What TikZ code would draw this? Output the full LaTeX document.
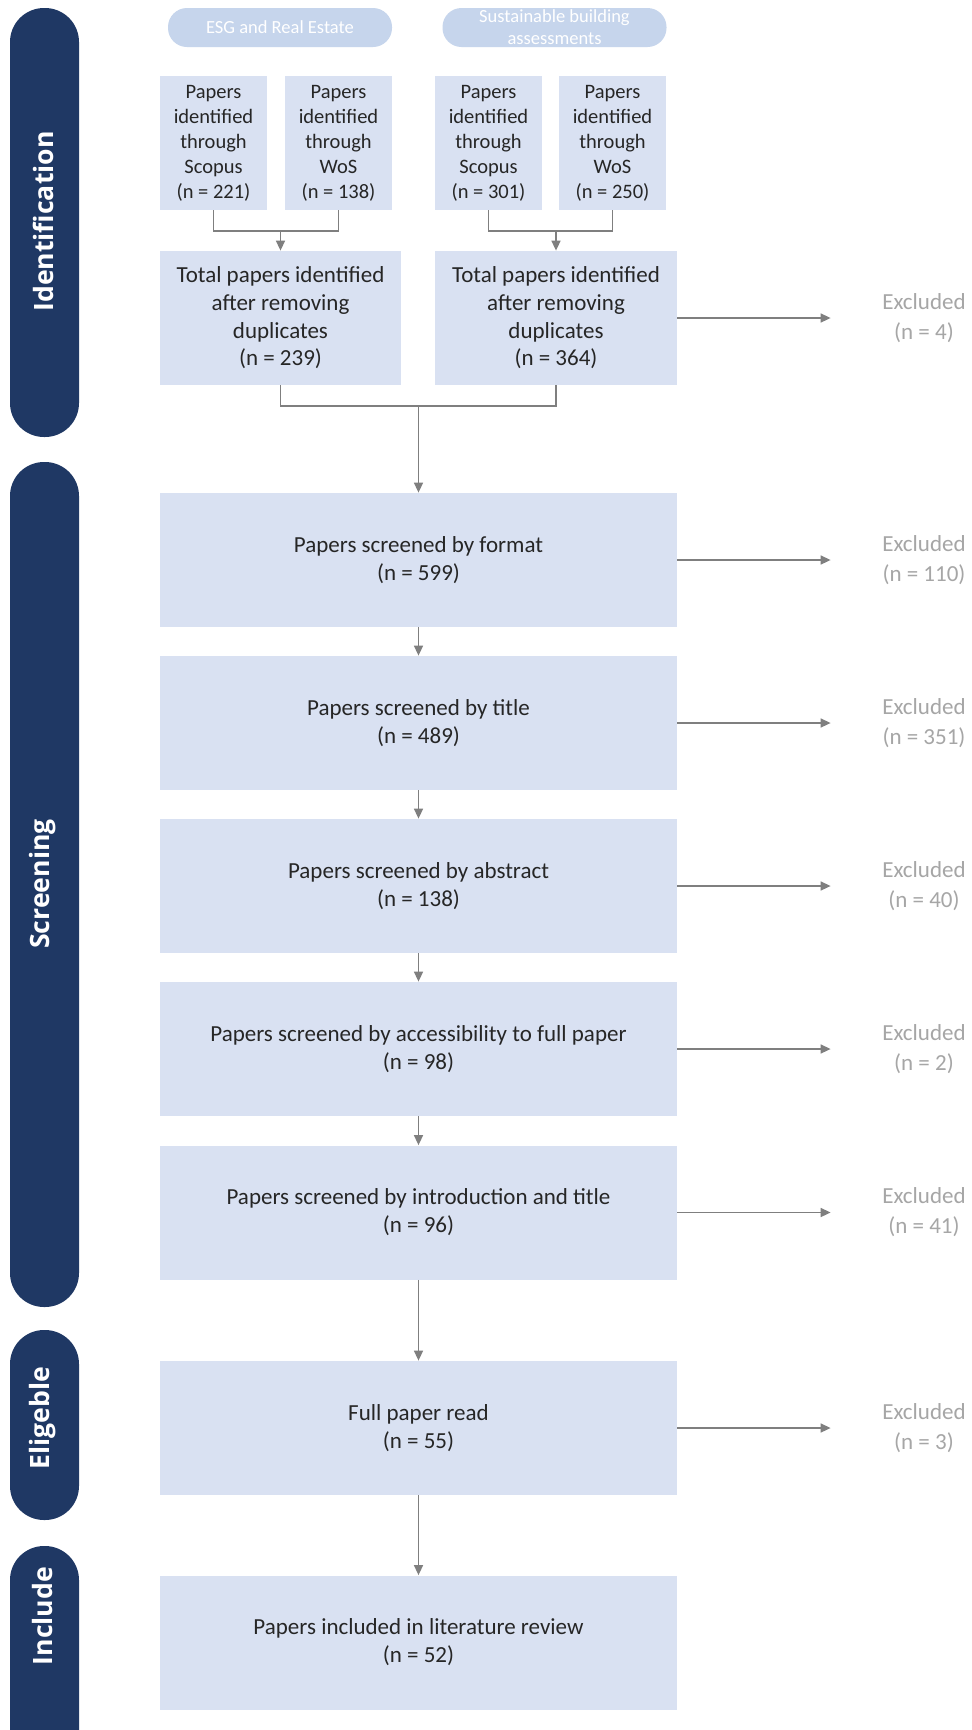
\documentclass[tikz,border=0pt]{standalone}
\usepackage{fontspec}
\setmainfont{Carlito}
\newfontfamily\sidefont{Open Sans}
\usetikzlibrary{arrows.meta}
\definecolor{navy}{HTML}{1F3864}
\definecolor{boxfill}{HTML}{D9E1F2}
\definecolor{pillfill}{HTML}{C6D5EC}
\definecolor{linegray}{HTML}{7F7F7F}
\definecolor{exgray}{HTML}{A6A6A6}
\definecolor{txt}{HTML}{262626}
\begin{document}
\begin{tikzpicture}[x=0.5pt,y=-0.5pt,
 side/.style={fill=navy, rounded corners=17pt, minimum width=34.5pt, inner sep=0pt},
 sidelabel/.style={rotate=90, text=white, font=\sidefont\bfseries\fontsize{13.3}{16}\selectfont, inner sep=0pt},
 toppill/.style={fill=pillfill, rounded corners=9.5pt, minimum width=112pt, minimum height=19.5pt, inner sep=0pt, text=white, align=center, font=\fontsize{9.25}{11}\selectfont},
 smallbox/.style={fill=boxfill, minimum width=53.5pt, minimum height=67pt, inner sep=0pt, align=center, text=txt, font=\fontsize{10.25}{12.5}\selectfont},
 totalbox/.style={fill=boxfill, minimum height=67pt, inner sep=0pt, align=center, text=txt, font=\fontsize{11.5}{13.85}\selectfont},
 mainbox/.style={fill=boxfill, minimum width=258.5pt, minimum height=67pt, inner sep=0pt, align=center, text=txt, font=\fontsize{11.5}{14}\selectfont},
 excl/.style={minimum width=93pt, inner sep=0pt, align=center, text=exgray, font=\fontsize{11.5}{15}\selectfont},
 conn/.style={draw=linegray, line width=0.75pt},
 arr/.style={conn, -{Triangle[length=5pt,width=4.5pt]}},
]
\clip (0,0) rectangle (971,1730);
\fill[white] (0,0) rectangle (971,1730);

% side bars
\node[side, minimum height=214.5pt] (pI) at (44.5,222.5) {};
\node[sidelabel] (lI) at (43,221.5) {Identification};
\node[side, minimum height=422.5pt] (pS) at (44.5,884.5) {};
\node[sidelabel] (lS) at (43,884) {Screening};
\node[side, minimum height=95pt] (pE) at (44.5,1425) {};
\node[sidelabel] (lE) at (43,1418) {Eligeble};
\node[side, minimum height=127pt] (pN) at (44.5,1673) {};
\node[sidelabel] (lN) at (43,1616) {Include};

% top pills
\node[toppill] (g1) at (280,27.5) {ESG and Real Estate};
\node[toppill] (g2) at (554.5,27.5) {Sustainable building\\assessments};

% small boxes
\node[smallbox] (s1) at (213.5,143) {Papers\\identified\\through\\Scopus\\(n = 221)};
\node[smallbox] (s2) at (338.5,143) {Papers\\identified\\through\\WoS\\(n = 138)};
\node[smallbox] (s3) at (488.5,143) {Papers\\identified\\through\\Scopus\\(n = 301)};
\node[smallbox] (s4) at (612.5,143) {Papers\\identified\\through\\WoS\\(n = 250)};

% totals
\node[totalbox, minimum width=120.5pt] (t1) at (280.5,318) {Total papers identified\\after removing\\duplicates\\(n = 239)};
\node[totalbox, minimum width=121pt] (t2) at (556,318) {Total papers identified\\after removing\\duplicates\\(n = 364)};

% main chain
\node[mainbox] (b1) at (418.5,560) {Papers screened by format\\(n = 599)};
\node[mainbox] (b2) at (418.5,723) {Papers screened by title\\(n = 489)};
\node[mainbox] (b3) at (418.5,886) {Papers screened by abstract\\(n = 138)};
\node[mainbox] (b4) at (418.5,1049) {Papers screened by accessibility to full paper\\(n = 98)};
\node[mainbox] (b5) at (418.5,1212.5) {Papers screened by introduction and title\\(n = 96)};
\node[mainbox] (b6) at (418.5,1428) {Full paper read\\(n = 55)};
\node[mainbox] (b7) at (418.5,1642.5) {Papers included in literature review\\(n = 52)};

% excluded
\node[excl] (e0) at (924,318) {Excluded\\(n = 4)};
\node[excl] (e1) at (924,560) {Excluded\\(n = 110)};
\node[excl] (e2) at (924,723) {Excluded\\(n = 351)};
\node[excl] (e3) at (924,886) {Excluded\\(n = 40)};
\node[excl] (e4) at (924,1049) {Excluded\\(n = 2)};
\node[excl] (e5) at (924,1212.5) {Excluded\\(n = 41)};
\node[excl] (e6) at (924,1428) {Excluded\\(n = 3)};

% connectors
\coordinate (j1) at (280.5,231);
\coordinate (j2) at (556,231);
\coordinate (j3) at (418.5,406);
\draw[conn] (s1.south) |- (j1) -| (s2.south);
\draw[arr] (j1) -- (t1.north);
\draw[conn] (s3.south) |- (j2) -| (s4.south);
\draw[arr] (j2) -- (t2.north);
\draw[conn] (t1.south) |- (j3) -| (t2.south);
\draw[arr] (j3) -- (b1.north);
\draw[arr] (b1) -- (b2);
\draw[arr] (b2) -- (b3);
\draw[arr] (b3) -- (b4);
\draw[arr] (b4) -- (b5);
\draw[arr] (b5) -- (b6);
\draw[arr] (b6) -- (b7);

\draw[arr] (t2.east) -- (e0.west);
\draw[arr] (b1.east) -- (e1.west);
\draw[arr] (b2.east) -- (e2.west);
\draw[arr] (b3.east) -- (e3.west);
\draw[arr] (b4.east) -- (e4.west);
\draw[arr] (b5.east) -- (e5.west);
\draw[arr] (b6.east) -- (e6.west);
\end{tikzpicture}
\end{document}
